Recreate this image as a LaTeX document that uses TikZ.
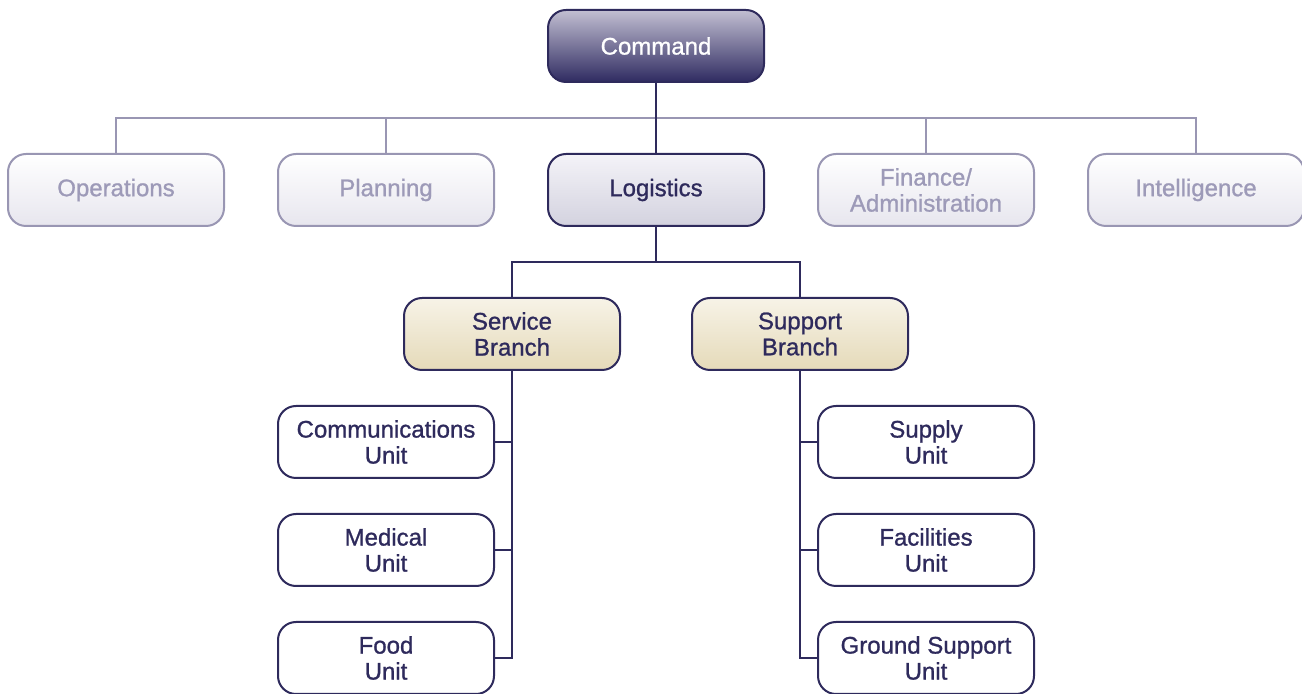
\documentclass[tikz,border=0pt]{standalone}
\usepackage{fontspec}
\setmainfont{Liberation Sans}[FakeBold=1]
\usetikzlibrary{calc}
\definecolor{navy}{HTML}{2E2A5C}
\definecolor{greyline}{HTML}{9996B3}
\definecolor{greytext}{HTML}{9D9AB8}
\definecolor{cmdtop}{HTML}{C2BFD2}
\definecolor{cmdbot}{HTML}{2F2B61}
\definecolor{logtop}{HTML}{F4F3F8}
\definecolor{logbot}{HTML}{D3D2DF}
\definecolor{brtop}{HTML}{F7F3E7}
\definecolor{brbot}{HTML}{E5DAB9}
\definecolor{offbot}{HTML}{E7E6EE}

\begin{document}
\begin{tikzpicture}[x=0.5pt,y=-0.5pt,
    box/.style={shape=rectangle,rounded corners=9pt,line width=1pt,
        minimum width=108pt,minimum height=36pt,inner sep=0pt,outer sep=0pt,
        align=center,font=\fontsize{12}{13}\selectfont},
    cmdbox/.style={box,draw=navy,top color=cmdtop,bottom color=cmdbot,text=white},
    offbox/.style={box,draw=greyline,top color=white,bottom color=offbot,text=greytext},
    logbox/.style={box,draw=navy,top color=logtop,bottom color=logbot,text=navy},
    branchbox/.style={box,draw=navy,top color=brtop,bottom color=brbot,text=navy},
    unitbox/.style={box,draw=navy,fill=white,text=navy},
    link/.style={draw=navy,line width=1pt},
    offlink/.style={draw=greyline,line width=1pt}]
    \useasboundingbox (0,0) rectangle (1302,694);

    \node[cmdbox] (cmd) at (656,46) {Command};

    \node[offbox] (ops) at (116,190) {Operations};
    \node[offbox] (plan) at (386,190) {Planning};
    \node[logbox] (log) at (656,190) {Logistics};
    \node[offbox] (fin) at (926,190) {Finance/\\Administration};
    \node[offbox] (intel) at (1196,190) {Intelligence};

    \node[branchbox] (svc) at (512,334) {Service\\Branch};
    \node[branchbox] (sup) at (800,334) {Support\\Branch};

    \node[unitbox] (comm) at (386,442) {Communications\\Unit};
    \node[unitbox] (med) at (386,550) {Medical\\Unit};
    \node[unitbox] (food) at (386,658) {Food\\Unit};

    \node[unitbox] (supply) at (926,442) {Supply\\Unit};
    \node[unitbox] (fac) at (926,550) {Facilities\\Unit};
    \node[unitbox] (ground) at (926,658) {Ground Support\\Unit};

    \coordinate (bus) at (656,118);
    \coordinate (split) at (656,262);

    % staff row
    \path[offlink] (ops.north) |- (bus) -| (intel.north);
    \path[offlink] (plan.north) -- (plan.north |- bus);
    \path[offlink] (fin.north) -- (fin.north |- bus);
    \path[link] (cmd.south) -- (log.north);

    % branches
    \path[link] (log.south) -- (split);
    \path[link] (svc.north) |- (split) -| (sup.north);

    % units
    \path[link] (svc.south) |- (food.east);
    \path[link] (comm.east) -- (comm.east -| svc.south);
    \path[link] (med.east) -- (med.east -| svc.south);
    \path[link] (sup.south) |- (ground.west);
    \path[link] (supply.west) -- (supply.west -| sup.south);
    \path[link] (fac.west) -- (fac.west -| sup.south);
\end{tikzpicture}
\end{document}
